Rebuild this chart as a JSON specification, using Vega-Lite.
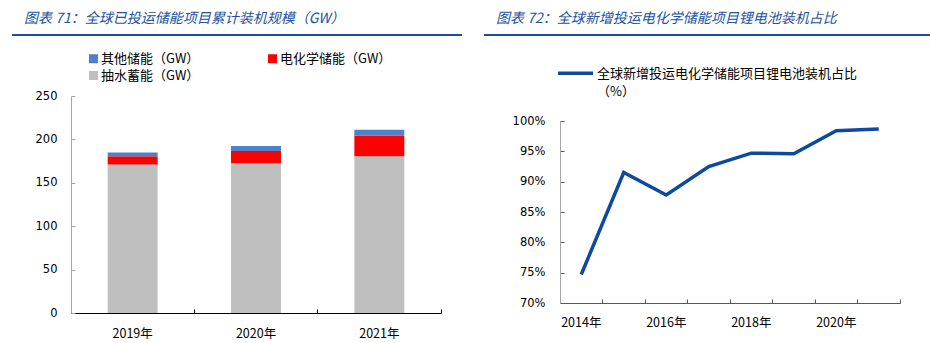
{
  "$schema": "https://vega.github.io/schema/vega-lite/v6.json",
  "padding": {"left": 12, "top": 11, "right": 0, "bottom": 0},
  "spacing": 22,
  "resolve": {"scale": {"color": "independent"}, "legend": {"color": "independent"}},
  "config": {
    "view": {"stroke": null},
    "font": "Noto Sans CJK SC",
    "axis": {"grid": false, "labelColor": "#000000", "titleColor": "#000000"},
    "style": {"guide-label": {"lineHeight": 18}}
  },
  "hconcat": [
    {
      "spacing": 10,
      "resolve": {"scale": {"color": "independent"}, "legend": {"color": "independent"}},
      "vconcat": [
        {
          "width": 448,
          "height": 0.01,
          "data": {"values": [{}]},
          "mark": {"type": "text"},
          "encoding": {"text": {"value": ""}},
          "view": {"stroke": "#1F4E99", "strokeWidth": 2},
          "title": {
            "text": "图表 71：全球已投运储能项目累计装机规模（GW）",
            "anchor": "start", "dx": 11, "offset": 3, "fontSize": 14,
            "fontStyle": "italic", "fontWeight": "normal", "color": "#2452A0",
            "font": "Noto Sans CJK SC"
          }
        },
        {
          "spacing": 0,
          "resolve": {"scale": {"color": "independent"}, "legend": {"color": "independent"}},
          "hconcat": [
            {
              "width": 0.01,
              "height": 0.01,
              "data": {"values": [{}]},
              "mark": {"type": "text"},
              "encoding": {"text": {"value": ""}}
            },
            {
              "width": 370,
              "height": 217,
              "data": {
                "values": [
                  {"year": "2019年", "type": "抽水蓄能（GW）", "value": 171.0},
                  {"year": "2019年", "type": "电化学储能（GW）", "value": 9.5},
                  {"year": "2019年", "type": "其他储能（GW）", "value": 4.5},
                  {"year": "2020年", "type": "抽水蓄能（GW）", "value": 172.5},
                  {"year": "2020年", "type": "电化学储能（GW）", "value": 14.0},
                  {"year": "2020年", "type": "其他储能（GW）", "value": 6.0},
                  {"year": "2021年", "type": "抽水蓄能（GW）", "value": 180.5},
                  {"year": "2021年", "type": "电化学储能（GW）", "value": 24.0},
                  {"year": "2021年", "type": "其他储能（GW）", "value": 6.5}
                ]
              },
              "transform": [
                {"calculate": "indexof(['抽水蓄能（GW）','电化学储能（GW）','其他储能（GW）'], datum.type)", "as": "stackOrder"}
              ],
              "mark": {"type": "bar", "width": {"band": 0.405}},
              "encoding": {
                "x": {
                  "field": "year", "type": "nominal",
                  "scale": {"paddingInner": 0, "paddingOuter": 0},
                  "axis": {
                    "title": null, "labelAngle": 0, "bandPosition": 1, "tickExtra": true,
                    "tickSize": -4, "domainColor": "#000000",
                    "tickColor": "#000000", "labelPadding": 18, "labelFontSize": 12.5
                  }
                },
                "y": {
                  "field": "value", "type": "quantitative", "stack": "zero",
                  "scale": {"domain": [0, 250]},
                  "axis": {
                    "title": null, "values": [0, 50, 100, 150, 200, 250], "minExtent": 57,
                    "tickSize": -4, "domainColor": "#A6A6A6", "tickColor": "#A6A6A6",
                    "labelFont": "DejaVu Sans", "labelFontSize": 11.5, "labelPadding": 18
                  }
                },
                "color": {
                  "field": "type", "type": "nominal",
                  "scale": {
                    "domain": ["其他储能（GW）", "抽水蓄能（GW）", "电化学储能（GW）"],
                    "range": ["#4F81C7", "#BFBFBF", "#FF0000"]
                  },
                  "legend": {
                    "orient": "none", "legendX": 16, "legendY": -44, "columns": 2,
                    "symbolType": "square", "symbolSize": 81, "symbolStrokeWidth": 0,
                    "labelFontSize": 13, "labelColor": "#000000", "columnPadding": 66,
                    "rowPadding": 3, "title": null, "padding": 0, "labelOffset": 1
                  }
                },
                "order": {"field": "stackOrder", "type": "quantitative"}
              }
            }
          ]
        }
      ]
    },
    {
      "spacing": 6,
      "resolve": {"scale": {"color": "independent"}, "legend": {"color": "independent"}},
      "vconcat": [
        {
          "width": 444,
          "height": 0.01,
          "data": {"values": [{}]},
          "mark": {"type": "text"},
          "encoding": {"text": {"value": ""}},
          "view": {"stroke": "#1F4E99", "strokeWidth": 2},
          "title": {
            "text": "图表 72：全球新增投运电化学储能项目锂电池装机占比",
            "anchor": "start", "dx": 11, "offset": 3, "fontSize": 14,
            "fontStyle": "italic", "fontWeight": "normal", "color": "#2452A0",
            "font": "Noto Sans CJK SC"
          }
        },
        {
          "spacing": 0,
          "resolve": {"scale": {"color": "independent"}, "legend": {"color": "independent"}},
          "hconcat": [
            {
              "width": 0.01,
              "height": 0.01,
              "data": {"values": [{}]},
              "mark": {"type": "text"},
              "encoding": {"text": {"value": ""}}
            },
            {
              "width": 340,
              "height": 182,
              "data": {
                "values": [
                  {"year": "2014年", "series": "全球新增投运电化学储能项目锂电池装机占比（%）", "share": 0.747},
                  {"year": "2015年", "series": "全球新增投运电化学储能项目锂电池装机占比（%）", "share": 0.915},
                  {"year": "2016年", "series": "全球新增投运电化学储能项目锂电池装机占比（%）", "share": 0.878},
                  {"year": "2017年", "series": "全球新增投运电化学储能项目锂电池装机占比（%）", "share": 0.925},
                  {"year": "2018年", "series": "全球新增投运电化学储能项目锂电池装机占比（%）", "share": 0.947},
                  {"year": "2019年", "series": "全球新增投运电化学储能项目锂电池装机占比（%）", "share": 0.946},
                  {"year": "2020年", "series": "全球新增投运电化学储能项目锂电池装机占比（%）", "share": 0.984},
                  {"year": "2021年", "series": "全球新增投运电化学储能项目锂电池装机占比（%）", "share": 0.987}
                ]
              },
              "mark": {"type": "line", "strokeWidth": 3.5},
              "encoding": {
                "x": {
                  "field": "year", "type": "ordinal",
                  "scale": {"type": "band", "paddingInner": 0, "paddingOuter": 0},
                  "axis": {
                    "title": null, "labelAngle": 0, "bandPosition": 1, "tickExtra": true,
                    "tickSize": -4, "domainColor": "#595959",
                    "tickColor": "#595959", "labelPadding": 17, "labelFontSize": 12.5,
                    "labelExpr": "indexof(['2014年','2016年','2018年','2020年'], datum.label) >= 0 ? datum.label : ''"
                  }
                },
                "y": {
                  "field": "share", "type": "quantitative",
                  "scale": {"domain": [0.7, 1.0]},
                  "axis": {
                    "title": null, "format": ".0%", "values": [0.7, 0.75, 0.8, 0.85, 0.9, 0.95, 1.0],
                    "minExtent": 74, "tickSize": -4, "domainColor": "#A6A6A6", "tickColor": "#595959",
                    "labelFont": "DejaVu Sans", "labelFontSize": 11.5, "labelPadding": 19
                  }
                },
                "color": {
                  "field": "series", "type": "nominal",
                  "scale": {"range": ["#0B4A9E"]},
                  "legend": {
                    "orient": "none", "legendX": -4, "legendY": -73,
                    "symbolType": "M-1,0.33H1", "symbolSize": 1225, "symbolStrokeWidth": 3.5,
                    "labelFontSize": 13, "labelColor": "#000000", "title": null, "padding": 0,
                    "labelOffset": 2, "labelLimit": 400, "labelBaseline": "top",
                    "labelExpr": "['全球新增投运电化学储能项目锂电池装机占比', '（%）']"
                  }
                }
              }
            }
          ]
        }
      ]
    }
  ]
}
